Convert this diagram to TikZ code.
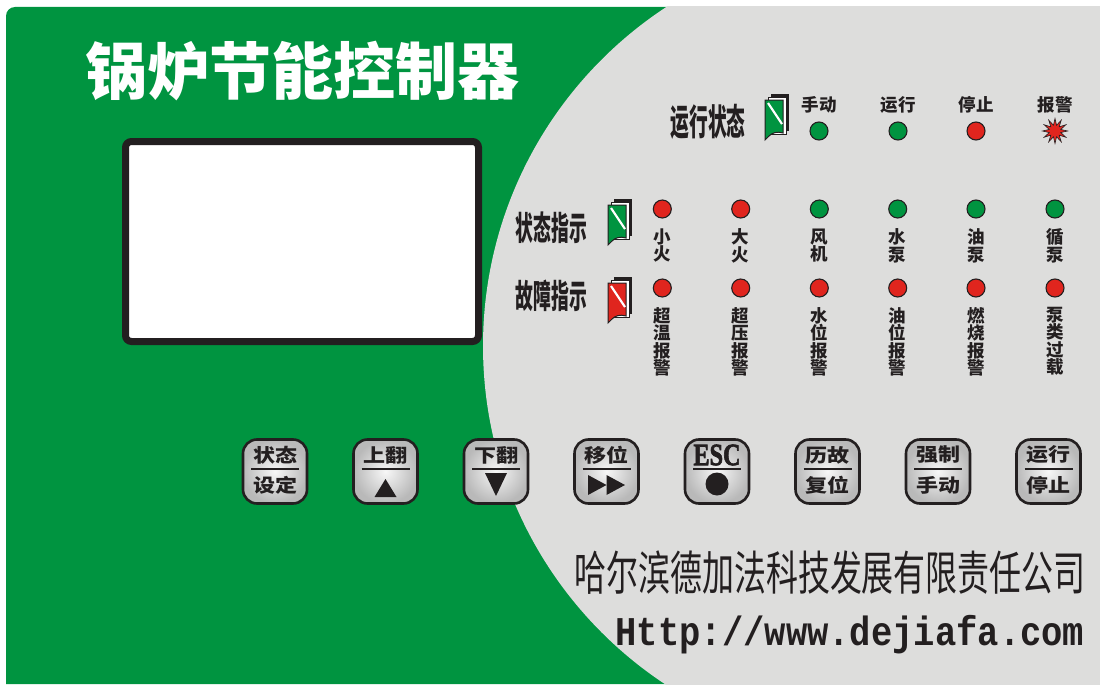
\documentclass[tikz,border=0pt]{standalone}
\usepackage{fontspec}
\usepackage{graphicx}
\usetikzlibrary{shapes.geometric}
\newfontfamily\cjk{Noto Sans CJK SC}
\newfontfamily\monofnt{Liberation Mono}
\newfontfamily\serifbold[FakeBold=2.5]{Liberation Serif}
\definecolor{pgreen}{RGB}{0,148,64}
\definecolor{pgray}{RGB}{221,221,220}
\definecolor{pred}{RGB}{224,37,30}
\definecolor{dk}{RGB}{35,31,32}
\newcommand\flagicon[3]{%
  \begin{scope}[shift={(#1,#2)}]
    \fill[dk] (6,0) -- (24,0) -- (24,37) -- (6,37) -- cycle;
    \fill[white, draw=dk, line width=0.6pt] (3,3) -- (21,3) -- (21,40) -- (3,40) -- cycle;
    \fill[#3, draw=dk, line width=1pt] (0,6) -- (18,6) -- (18,39)
      .. controls (12,37) and (7,39) .. (4,42)
      .. controls (2,44) and (1,45) .. (0,46) -- cycle;
    \draw[white, line width=2.2pt] (3,9) -- (17,30);
  \end{scope}}
\newcommand\btnkey[4]{%
  \node[btnbox] (#1) at (#2,471.5) {};
  \node[btntxt] (#1t) at (#2,455) {#3};
  \draw[sepline] (#2-24,469) -- (#2+24,469);
  \node[btntxt] (#1b) at (#2,485.5) {#4};}
\begin{document}
\begin{tikzpicture}[x=1pt,y=-1pt,
  led/.style={circle, minimum size=18pt, inner sep=0pt, draw=dk, line width=1.1pt},
  toplab/.style={font=\cjk\bfseries\fontsize{17.5}{17.5}\selectfont, text=dk, inner sep=0pt},
  vlab/.style={font=\cjk\bfseries\fontsize{17.5}{17.5}\selectfont, text=dk, inner sep=0pt, align=center, anchor=north},
  rowlab/.style={text=dk, inner sep=0pt},
  btnbox/.style={rectangle, rounded corners=14pt, minimum width=64pt, minimum height=64pt,
    draw=dk, line width=2.6pt, inner color=gray!6, outer color=gray!55},
  btntxt/.style={font=\cjk\bfseries\fontsize{22}{22}\selectfont, text=dk, inner sep=0pt},
  sepline/.style={dk, line width=2.6pt}]
\useasboundingbox (0,0) rectangle (1100,685);
\fill[white] (0,0) rectangle (1100,685);
% panel
\fill[pgreen, rounded corners=9pt] (6,684) -- (6,7) [sharp corners] -- (1100,7) -- (1100,684) -- cycle;
\begin{scope}
  \clip (6,7) rectangle (1100,684);
  \fill[pgray] (888,346) circle (405pt);
\end{scope}
% title
\node[text=white, inner sep=0pt, font=\cjk\bfseries\fontsize{62}{62}\selectfont] (title) at (302,71) {锅炉节能控制器};
% LCD
\node[draw=dk, fill=white, line width=7pt, rounded corners=6pt, minimum width=353pt, minimum height=200pt, inner sep=0pt] (lcd) at (302,241.5) {};
% row 1
\node[rowlab, font=\cjk\bfseries\fontsize{36}{36}\selectfont] (runstate) at (708,121.5) {\scalebox{0.52}[1]{运行状态}};
\flagicon{765}{94}{pgreen}
\node[toplab] (l1) at (819,104.5) {手动};
\node[toplab] (l2) at (898,104.5) {运行};
\node[toplab] (l3) at (976,104.5) {停止};
\node[toplab] (l4) at (1055,104.5) {报警};
\node[led, fill=pgreen] (s1) at (819,131) {};
\node[led, fill=pgreen] (s2) at (898,131) {};
\node[led, fill=pred] (s3) at (976,131) {};
\node[star, star points=12, star point ratio=2.1, minimum size=25pt, inner sep=0pt, fill=pred, draw=dk, line width=0.6pt] (s4) at (1055,131) {};
% row 2
\node[rowlab, font=\cjk\bfseries\fontsize{33}{33}\selectfont] (stat) at (551.5,227.5) {\scalebox{0.54}[1]{状态指示}};
\flagicon{608}{199}{pgreen}
\node[rowlab, font=\cjk\bfseries\fontsize{33}{33}\selectfont] (fault) at (551.5,296) {\scalebox{0.54}[1]{故障指示}};
\flagicon{608}{277}{pred}
\node[led, fill=pred]   (a1) at (662.3,209) {};
\node[led, fill=pred]   (a2) at (740.7,209) {};
\node[led, fill=pgreen] (a3) at (819.3,209) {};
\node[led, fill=pgreen] (a4) at (897.7,209) {};
\node[led, fill=pgreen] (a5) at (976,209) {};
\node[led, fill=pgreen] (a6) at (1055,209) {};
\node[vlab] (al1) at (662.3,228.5) {小\\火};
\node[vlab] (al2) at (740.7,228.5) {大\\火};
\node[vlab] (al3) at (819.3,228.5) {风\\机};
\node[vlab] (al4) at (897.7,228.5) {水\\泵};
\node[vlab] (al5) at (976,228.5) {油\\泵};
\node[vlab] (al6) at (1055,228.5) {循\\泵};
% row 3
\node[led, fill=pred] (f1) at (662.3,288) {};
\node[led, fill=pred] (f2) at (740.7,288) {};
\node[led, fill=pred] (f3) at (819.3,288) {};
\node[led, fill=pred] (f4) at (897.7,288) {};
\node[led, fill=pred] (f5) at (976,288) {};
\node[led, fill=pred] (f6) at (1055,288) {};
\node[vlab] (fl1) at (662.3,307) {超\\温\\报\\警};
\node[vlab] (fl2) at (740.7,307) {超\\压\\报\\警};
\node[vlab] (fl3) at (819.3,307) {水\\位\\报\\警};
\node[vlab] (fl4) at (897.7,307) {油\\位\\报\\警};
\node[vlab] (fl5) at (976,307) {燃\\烧\\报\\警};
\node[vlab] (fl6) at (1055,307) {泵\\类\\过\\载};
% buttons
\btnkey{k1}{275}{\scalebox{1}[0.85]{状态}}{\scalebox{1}[0.85]{设定}}
\btnkey{k2}{385.5}{\scalebox{1}[0.85]{上翻}}{}
\btnkey{k3}{496}{\scalebox{1}[0.85]{下翻}}{}
\btnkey{k4}{606.5}{\scalebox{1}[0.85]{移位}}{}
\btnkey{k5}{717}{\serifbold\fontsize{31}{31}\selectfont\scalebox{0.78}[1]{ESC}}{}
\btnkey{k6}{827.5}{\scalebox{1}[0.85]{历故}}{\scalebox{1}[0.85]{复位}}
\btnkey{k7}{938}{\scalebox{1}[0.85]{强制}}{\scalebox{1}[0.85]{手动}}
\btnkey{k8}{1048.5}{\scalebox{1}[0.85]{运行}}{\scalebox{1}[0.85]{停止}}
\fill[dk] (374.5,497) -- (396.5,497) -- (385.5,479) -- cycle;
\fill[dk] (485,473) -- (507,473) -- (496,496) -- cycle;
\fill[dk] (588,475) -- (606.5,485) -- (588,495) -- cycle;
\fill[dk] (606.5,475) -- (625,485) -- (606.5,495) -- cycle;
\fill[dk] (717,484) circle (11.5pt);
% company
\node[rowlab, font=\cjk\fontsize{47}{47}\selectfont] (company) at (830,573) {\scalebox{0.68}[1]{哈尔滨德加法科技发展有限责任公司}};
\node[rowlab, font=\monofnt\bfseries\fontsize{35.5}{35.5}\selectfont] (url) at (850,635) {\scalebox{1}[1.15]{Http://www.dejiafa.com}};
\end{tikzpicture}
\end{document}
